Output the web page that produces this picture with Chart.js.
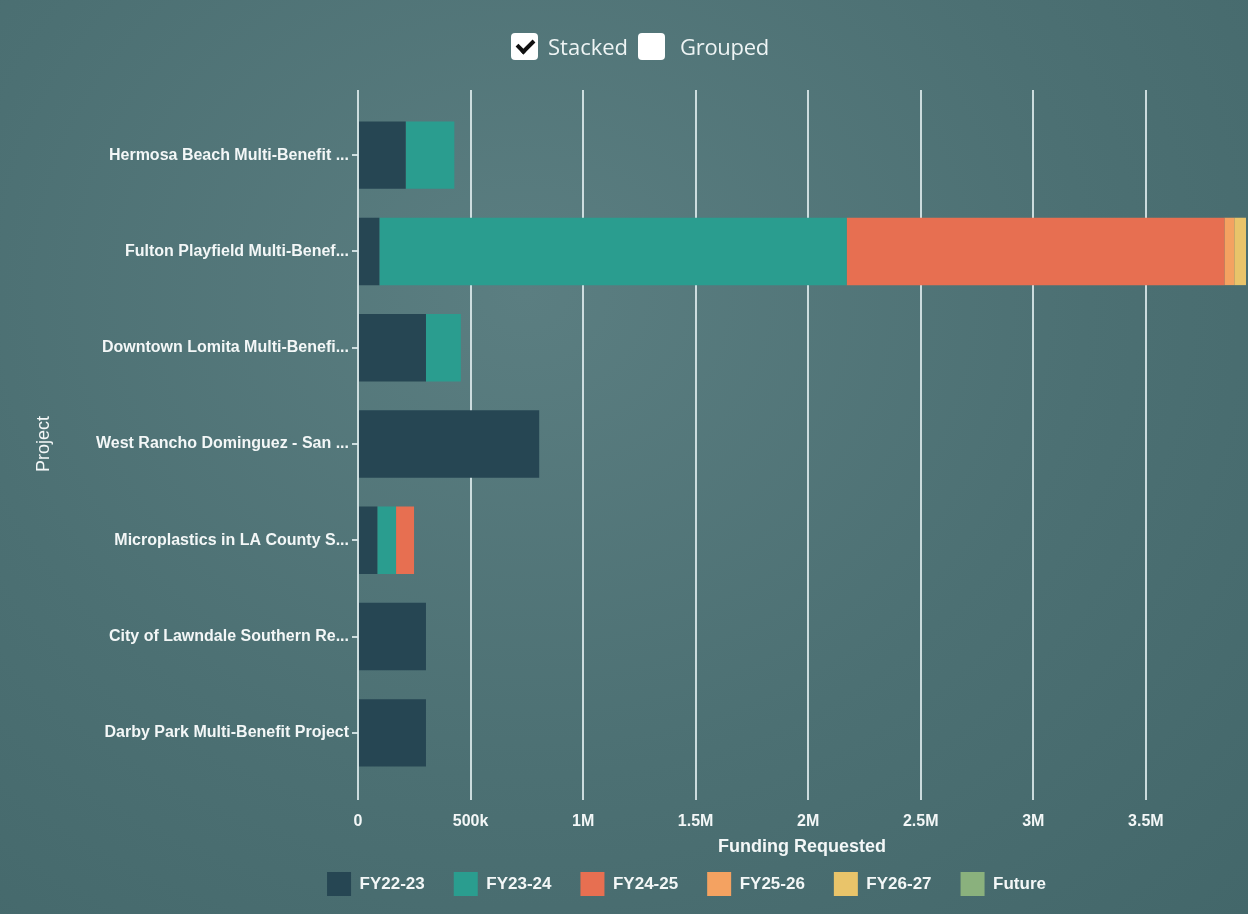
<!DOCTYPE html>
<html>
<head>
<meta charset="utf-8">
<script src="https://cdn.jsdelivr.net/npm/chart.js@4.4.1/dist/chart.umd.min.js"></script>
<style>
  html, body { margin: 0; padding: 0; }
  body {
    width: 1248px; height: 914px; overflow: hidden;
    background: radial-gradient(ellipse at 42% 32%, #5b7e81 0%, #4c7073 55%, #43676a 100%);
    font-family: 'Open Sans', sans-serif;
  }
  #wrap { position: relative; width: 1248px; height: 914px; }
  #chart { position: absolute; left: 0; top: 0; }
  #modes {
    position: absolute; top: 33px; left: 511px; z-index: 2;
    display: flex; align-items: center;
    color: #eef4f4; font-size: 22px; line-height: 27px;
  }
  .box { width: 27px; height: 27px; background: #fff; border-radius: 4px; position: relative; }
  .box.on::after {
    content: ''; position: absolute; left: 9px; top: 3px;
    width: 7px; height: 13px;
    border: solid #111; border-width: 0 4px 4px 0;
    transform: rotate(45deg);
  }
  .lbl1 { margin: 0 10px 0 10px; }
  .lbl2 { margin: 0 0 0 15px; letter-spacing: -0.3px; }
</style>
</head>
<body>
<div id="wrap">
  <div id="modes">
    <span class="box on"></span><span class="lbl1">Stacked</span>
    <span class="box"></span><span class="lbl2">Grouped</span>
  </div>
  <canvas id="chart" width="1248" height="914"></canvas>
</div>
<script>
const projects = [
  'Hermosa Beach Multi-Benefit ...',
  'Fulton Playfield Multi-Benef...',
  'Downtown Lomita Multi-Benefi...',
  'West Rancho Dominguez - San ...',
  'Microplastics in LA County S...',
  'City of Lawndale Southern Re...',
  'Darby Park Multi-Benefit Project'
];
const fy2223 = [212000, 95000, 302000, 805000, 86000, 302000, 302000];
const fy2324 = [216000, 2076000, 155000, 0, 83000, 0, 0];
const fy2425 = [0, 1678000, 0, 0, 80000, 0, 0];
const fy2526 = [0, 44000, 0, 0, 0, 0, 0];
const fy2627 = [0, 52000, 0, 0, 0, 0, 0];
const future = [0, 0, 0, 0, 0, 0, 0];
const seriesNames = ['FY22-23', 'FY23-24', 'FY24-25', 'FY25-26', 'FY26-27', 'Future'];
const xTicks = [0, 500000, 1000000, 1500000, 2000000, 2500000, 3000000, 3500000];
const xMax = 3945000;

const colors = ['#264653', '#2a9d8f', '#e76f51', '#f4a261', '#e9c46a', '#8ab17d'];
const gridColor = 'rgba(226,238,240,0.85)';
const textColor = '#f3f7f7';

Chart.defaults.font.family = "'Liberation Sans', Arial, sans-serif";
Chart.defaults.font.weight = 'bold';
Chart.defaults.color = textColor;

const fmt = v => v === 0 ? '0' : v < 1e6 ? (v / 1000) + 'k' : (v / 1e6) + 'M';
const setTicks = s => { s.ticks = xTicks.map(v => ({ value: v })); };

// nudge the legend to where the original sits
const shiftLegend = {
  id: 'shiftLegend',
  afterLayout(chart) {
    chart.legend.left += 49;
    chart.legend.right += 49;
  }
};

new Chart(document.getElementById('chart'), {
  type: 'bar',
  data: {
    labels: projects,
    datasets: [fy2223, fy2324, fy2425, fy2526, fy2627, future].map((d, i) => ({
      label: seriesNames[i],
      data: d,
      backgroundColor: colors[i],
      borderWidth: 0,
      categoryPercentage: 1,
      barPercentage: 0.7
    }))
  },
  options: {
    indexAxis: 'y',
    responsive: false,
    animation: false,
    layout: { padding: { top: 90, left: 29, right: 2, bottom: 8 } },
    plugins: {
      tooltip: { enabled: false },
      legend: {
        position: 'bottom',
        labels: {
          boxWidth: 24, boxHeight: 24, padding: 29,
          color: textColor,
          font: { size: 17, weight: 'bold' }
        }
      }
    },
    scales: {
      x: {
        stacked: true, min: 0, max: xMax,
        afterBuildTicks: setTicks,
        afterFit: s => { s.height = 62; },
        border: { display: false },
        grid: { color: gridColor, lineWidth: 2, tickLength: 19 },
        ticks: { padding: 12, callback: fmt, font: { size: 16 } },
        title: { display: true, text: 'Funding Requested', font: { size: 18 }, padding: { top: 0, bottom: -15 } }
      },
      x2: {
        type: 'linear', position: 'top', min: 0, max: xMax,
        afterBuildTicks: setTicks,
        border: { display: false },
        grid: { drawOnChartArea: false, color: gridColor, lineWidth: 2, tickLength: 17 },
        ticks: { display: false }
      },
      y: {
        stacked: true,
        border: { display: false },
        afterFit: s => { s.width = 329; },
        grid: { drawOnChartArea: false, offset: false, color: gridColor, lineWidth: 2, tickLength: 6 },
        ticks: { padding: 3, font: { size: 16 } },
        title: { display: true, text: 'Project', font: { size: 18, weight: 'normal' } }
      }
    }
  },
  plugins: [shiftLegend]
});
</script>
</body>
</html>
